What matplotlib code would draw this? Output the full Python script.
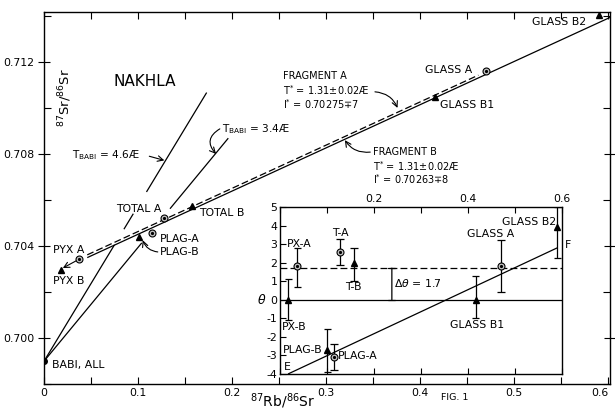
import numpy as np
import matplotlib
matplotlib.use('Agg')
import matplotlib.pyplot as plt

plt.rcParams['font.family'] = ['DejaVu Sans']
plt.rcParams['mathtext.fontset'] = 'dejavusans'
plt.rcParams['axes.unicode_minus'] = False
plt.rcParams['lines.solid_capstyle'] = 'butt'

# Nakhla Rb-Sr analyses (fragment A = circles, fragment B = triangles)
samples = ['PYX A', 'PYX B', 'PLAG-A', 'PLAG-B', 'TOTAL A', 'TOTAL B',
           'GLASS B1', 'GLASS A', 'GLASS B2']
fragment = ['A', 'B', 'A', 'B', 'A', 'B', 'B', 'A', 'B']
rb_sr = [0.037, 0.018, 0.115, 0.101, 0.128, 0.157, 0.416, 0.470, 0.590]
sr_sr = [0.70343, 0.70296, 0.70457, 0.70437, 0.70522, 0.70574,
         0.71048, 0.71161, 0.71404]

# deviation from the isochron (epsilon units) with error bars
theta = [1.8, 0.0, -3.1, -2.7, 2.6, 2.0, 0.0, 1.8, 3.9]
theta_lo = [0.7, -1.1, -3.8, -3.9, 1.9, 1.0, -1.0, 0.4, 2.25]
theta_hi = [2.8, 1.1, -2.4, -1.6, 3.3, 2.8, 1.3, 3.2, 5.0]
d_theta = 1.7
ef_x = [0.017, 0.590]
ef_theta = [-4.0, 2.8]

babi = (0.0, 0.69899)
lam = 1.42e-11
iso_age = 1.31e9
i_frag_a = 0.70275
i_frag_b = 0.70263
t_babi = [4.6e9, 3.4e9]

# x ranges over which each line is drawn
frag_a_span = [0.046, 0.462]
frag_b_span = [0.046, 0.602]
babi46_segs = [(0.0, 0.075), (0.085, 0.095), (0.109, 0.173)]
babi34_segs = [(0.0, 0.104), (0.134, 0.196)]

x_ticks = [0, 0.1, 0.2, 0.3, 0.4, 0.5, 0.6]
x_ticklabels = ['0', '0.1', '0.2', '0.3', '0.4', '0.5', '0.6']
y_ticks = [0.700, 0.704, 0.708, 0.712]
y_ticklabels = ['0.700', '0.704', '0.708', '0.712']
in_xticks = [0, 0.1, 0.2, 0.3, 0.4, 0.5, 0.6]
in_xticklabels = ['', '', '0.2', '', '0.4', '', '0.6']


def slope(t):
    return np.exp(lam * t) - 1.0


def draw_points(a, xs, ys, ms_c=5, ms_t=4.5):
    for x, y, f in zip(xs, ys, fragment):
        if f == 'A':
            a.plot(x, y, 'o', ms=ms_c, mfc='#c4c4c4', mec='k', mew=0.8, zorder=5)
            a.plot(x, y, 'o', ms=1.3, mfc='k', mec='k', zorder=6)
        else:
            a.plot(x, y, '^', ms=ms_t, mfc='k', mec='k', zorder=5)


fig = plt.figure(figsize=(6.15, 4.11), dpi=100)
ax = fig.add_axes([44 / 615, 1 - 384 / 411, 566 / 615, 372 / 411])
ax.set_xlim(0, 0.602)
ax.set_ylim(0.698, 0.71417)

lw = 0.9
s_iso = slope(iso_age)
xa = np.array(frag_a_span)
ax.plot(xa, i_frag_a + s_iso * xa, color='k', lw=lw, dashes=(5.5, 2.5))
xb = np.array(frag_b_span)
ax.plot(xb, i_frag_b + s_iso * xb, color='k', lw=lw)

for t, segs in zip(t_babi, [babi46_segs, babi34_segs]):
    for seg in segs:
        xs = np.array(seg)
        ax.plot(xs, babi[1] + slope(t) * xs, color='k', lw=lw)

ax.plot(*babi, 'o', ms=4, color='k', zorder=5)
draw_points(ax, rb_sr, sr_sr)

fs = 7.8
ax.text(0.1074, 0.71113, 'NAKHLA', fontsize=11, ha='center', va='center')
ax.text(0.023, 0.71043, '$^{87}$Sr/$^{86}$Sr', fontsize=9.5, rotation=90,
        ha='center', va='center')
ax.text(0.0096, 0.70383, 'PYX A', fontsize=fs, va='center')
ax.text(0.0096, 0.70248, 'PYX B', fontsize=fs, va='center')
ax.text(0.0085, 0.69883, 'BABI, ALL', fontsize=fs, va='center')
ax.text(0.0766, 0.70561, 'TOTAL A', fontsize=fs, va='center')
ax.text(0.165, 0.70543, 'TOTAL B', fontsize=fs, va='center')
ax.text(0.1234, 0.7043, 'PLAG-A', fontsize=fs, va='center')
ax.text(0.1234, 0.70374, 'PLAG-B', fontsize=fs, va='center')
ax.text(0.405, 0.71165, 'GLASS A', fontsize=fs, va='center')
ax.text(0.421, 0.71013, 'GLASS B1', fontsize=fs, va='center')
ax.text(0.519, 0.71374, 'GLASS B2', fontsize=fs, va='center')

ff = 7.0
ax.text(0.254, 0.71140, 'FRAGMENT A', fontsize=ff, va='center')
ax.text(0.254, 0.71077, 'T$^{*}$ = 1.31±0.02Æ', fontsize=ff, va='center')
ax.text(0.254, 0.71018, 'I$^{*}$ = 0.70275∓7', fontsize=ff, va='center')
ax.text(0.350, 0.70808, 'FRAGMENT B', fontsize=ff, va='center')
ax.text(0.350, 0.70748, 'T$^{*}$ = 1.31±0.02Æ', fontsize=ff, va='center')
ax.text(0.350, 0.70690, 'I$^{*}$ = 0.70263∓8', fontsize=ff, va='center')

ax.text(0.0298, 0.70796, r'T$_{\rm BABI}$ = 4.6Æ', fontsize=7.6, va='center')
ax.text(0.1894, 0.70909, r'T$_{\rm BABI}$ = 3.4Æ', fontsize=7.6, va='center')

arr = dict(arrowstyle='->', lw=0.8, color='k', shrinkA=0, shrinkB=0)
ax.annotate('', xy=(0.128, 0.70772), xytext=(0.112, 0.70790),
            arrowprops=arr)
ax.annotate('', xy=(0.183, 0.70800), xytext=(0.187, 0.70909),
            arrowprops=dict(arr, connectionstyle='arc3,rad=0.6'))
ax.annotate('', xy=(0.376, 0.71000), xytext=(0.352, 0.71070),
            arrowprops=dict(arr, connectionstyle='arc3,rad=-0.3'))
ax.annotate('', xy=(0.320, 0.70860), xytext=(0.347, 0.70808),
            arrowprops=dict(arr, connectionstyle='arc3,rad=-0.3'))
ax.annotate('', xy=(0.020, 0.70304), xytext=(0.034, 0.70335),
            arrowprops=arr)
ax.annotate('', xy=(0.105, 0.70425), xytext=(0.121, 0.70374),
            arrowprops=dict(arr, connectionstyle='arc3,rad=-0.3'))

ax.set_xticks(x_ticks)
ax.set_xticklabels(x_ticklabels)
ax.set_xticks(np.arange(0.05, 0.6, 0.1), minor=True)
ax.set_yticks(y_ticks)
ax.set_yticklabels(y_ticklabels)
ax.set_yticks(np.arange(0.698, 0.7142, 0.002), minor=True)
ax.tick_params(which='both', direction='in', top=True, right=True,
               labelsize=7.8, width=0.8, length=5, pad=3)
ax.tick_params(axis='y', which='major', direction='inout', length=8)
ax.get_xticklabels()[-1].set_horizontalalignment('right')
for sp in ax.spines.values():
    sp.set_linewidth(1.0)

fig.text(0.46, 0.025, '$^{87}$Rb/$^{86}$Sr', fontsize=10, ha='center', va='center')
fig.text(0.74, 0.034, 'FIG. 1', fontsize=6.8, ha='center', va='center')

# deviation plot
axi = fig.add_axes([280 / 615, 1 - 374 / 411, 282 / 615, 167 / 411], zorder=3)
axi.set_facecolor('white')
axi.set_xlim(0, 0.6)
axi.set_ylim(-4, 5)
axi.axhline(0, color='k', lw=lw)
axi.axhline(d_theta, color='k', lw=lw, dashes=(5.5, 2.5))
axi.plot(ef_x, ef_theta, color='k', lw=lw)
for x, lo, hi in zip(rb_sr, theta_lo, theta_hi):
    axi.plot([x, x], [lo, hi], color='k', lw=lw)
    axi.plot([x - 0.008, x + 0.008], [lo, lo], color='k', lw=lw)
    axi.plot([x - 0.008, x + 0.008], [hi, hi], color='k', lw=lw)
draw_points(axi, rb_sr, theta)
axi.annotate('', xy=(0.238, 0), xytext=(0.238, d_theta),
             arrowprops=dict(arrowstyle='|-|,widthA=0.25,widthB=0.25',
                             lw=lw, color='k', shrinkA=0, shrinkB=0))

fi = 7.8
axi.text(0.015, 3.0, 'PX-A', fontsize=fi, va='center')
axi.text(0.128, 3.6, 'T-A', fontsize=fi, ha='center', va='center')
axi.text(0.157, 0.7, 'T-B', fontsize=fi, ha='center', va='center')
axi.text(0.243, 0.9, r'$\Delta\theta$ = 1.7', fontsize=fi, va='center')
axi.text(0.362, -1.35, 'GLASS B1', fontsize=fi, va='center')
axi.text(0.398, 3.55, 'GLASS A', fontsize=fi, va='center')
axi.text(0.472, 4.2, 'GLASS B2', fontsize=fi, va='center')
axi.text(0.004, -1.45, 'PX-B', fontsize=fi, va='center')
axi.text(0.006, -2.7, 'PLAG-B', fontsize=fi, va='center')
axi.text(0.123, -3.05, 'PLAG-A', fontsize=fi, va='center')
axi.text(0.009, -3.6, 'E', fontsize=fi, va='center')
axi.text(0.606, 2.95, 'F', fontsize=fi, va='center', clip_on=False)
axi.text(-0.064, 0, r'$\theta$', fontsize=9, ha='center', va='center',
         transform=axi.get_yaxis_transform())

axi.set_yticks(np.arange(-4, 6, 1))
axi.set_xticks(in_xticks)
axi.set_xticklabels(in_xticklabels)
axi.xaxis.set_ticks_position('both')
axi.tick_params(axis='x', labelbottom=False, labeltop=True)
axi.tick_params(which='major', direction='in', width=0.8, length=4,
                labelsize=7.8, pad=2)
for sp in axi.spines.values():
    sp.set_linewidth(1.0)

fig.savefig('out.png', dpi=100, facecolor='white')
